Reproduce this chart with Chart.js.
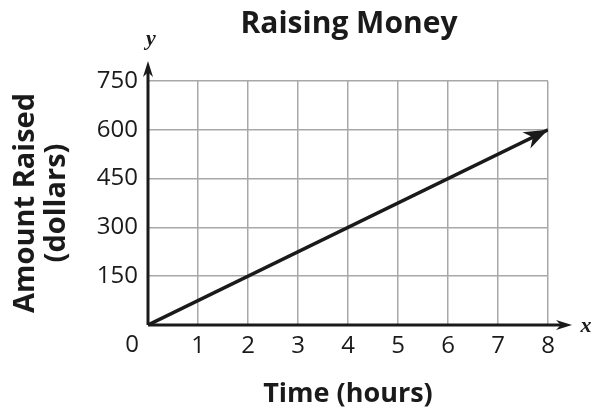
<!DOCTYPE html>
<html>
  <head>
   <meta charset='utf-8'>
   <title>Raising Money</title>
   <script src="https://cdn.jsdelivr.net/npm/chart.js@4.4.1/dist/chart.umd.min.js"></script>
   <style>
     body { margin: 0; background: #fff; }
     #wrap { width: 592px; height: 413px; }
   </style>
  </head>
  <body>
    <div id="wrap">
      <canvas id="chart_money"></canvas>
    </div>
    <script>
      var hours = [0, 8];
      var dollars = [0, 600];
      var x_ticks = [0, 1, 2, 3, 4, 5, 6, 7, 8];
      var y_ticks = [0, 150, 300, 450, 600, 750];

      var pts = hours.map(function(h, i) { return {x: h, y: dollars[i]}; });
      var fontName = "'Open Sans', 'Noto Sans', sans-serif";

      function arrowHead(ctx, x, y, ang, len, half) {
        ctx.save();
        ctx.translate(x, y);
        ctx.rotate(ang);
        ctx.beginPath();
        ctx.moveTo(0, 0);
        ctx.lineTo(-len, -half);
        ctx.lineTo(-len * 0.7, 0);
        ctx.lineTo(-len, half);
        ctx.closePath();
        ctx.fillStyle = '#1a1a1a';
        ctx.fill();
        ctx.restore();
      }

      // axes with arrows, arrow on the line, origin and axis letters
      var extras = {
        id: 'extras',
        afterDatasetsDraw: function(chart) {
          var ctx = chart.ctx;
          var xs = chart.scales.x, ys = chart.scales.y;
          var x0 = xs.getPixelForValue(0), y0 = ys.getPixelForValue(0);
          ctx.save();
          ctx.strokeStyle = '#1a1a1a';
          ctx.lineWidth = 3;
          ctx.beginPath();
          ctx.moveTo(x0, y0);
          ctx.lineTo(chart.chartArea.right + 14, y0);
          ctx.moveTo(x0, y0);
          ctx.lineTo(x0, chart.chartArea.top - 12);
          ctx.stroke();
          arrowHead(ctx, chart.chartArea.right + 24, y0, 0, 16, 5);
          arrowHead(ctx, x0, chart.chartArea.top - 20, -Math.PI / 2, 16, 5);

          var last = pts.length - 1;
          var ex = xs.getPixelForValue(pts[last].x), ey = ys.getPixelForValue(pts[last].y);
          var px = xs.getPixelForValue(pts[last - 1].x), py = ys.getPixelForValue(pts[last - 1].y);
          arrowHead(ctx, ex, ey, Math.atan2(ey - py, ex - px), 24, 9);

          ctx.fillStyle = '#1a1a1a';
          ctx.font = "24px " + fontName;
          ctx.textAlign = 'center';
          ctx.textBaseline = 'middle';
          ctx.fillText('0', x0 - 16, y0 + 20);
          ctx.font = "italic bold 22px 'Liberation Serif', serif";
          ctx.fillText('x', chart.chartArea.right + 38, y0 + 1);
          ctx.fillText('y', x0 + 3, chart.chartArea.top - 42);
          ctx.restore();
        }
      };

      var ctx_money = document.getElementById("chart_money").getContext("2d");
      var chart_money = new Chart(ctx_money, {
              type: "line",
              data: {'datasets': [
                  {'data': pts, 'borderColor': '#1a1a1a', 'borderWidth': 3.5,
                   'pointRadius': 0, 'borderCapStyle': 'butt', 'tension': 0}
                ]},
              options: {
                responsive: true,
                maintainAspectRatio: false,
                animation: false,
                layout: {padding: {top: 81, right: 44, left: 0, bottom: 0}},
                scales: {
                  x: {type: 'linear', min: 0, max: 8,
                      afterBuildTicks: function(s) { s.ticks = x_ticks.map(function(v) { return {value: v}; }); },
                      afterFit: function(s) { s.height = 88; },
                      grid: {color: '#a8a8a8', lineWidth: 1.5, drawTicks: false},
                      border: {display: false},
                      ticks: {color: '#1a1a1a', padding: 7, font: {family: fontName, size: 24},
                              callback: function(v) { return v === 0 ? '' : v; }},
                      title: {display: true, text: 'Time (hours)', color: '#1a1a1a',
                              font: {family: fontName, size: 27, weight: 'bold'}, padding: {bottom: 2}}},
                  y: {min: 0, max: 750,
                      afterBuildTicks: function(s) { s.ticks = y_ticks.map(function(v) { return {value: v}; }); },
                      afterFit: function(s) { s.width = 148; },
                      grid: {color: '#a8a8a8', lineWidth: 1.5, drawTicks: false},
                      border: {display: false},
                      ticks: {color: '#1a1a1a', padding: 10, font: {family: fontName, size: 24},
                              callback: function(v) { return v === 0 ? '' : v; }},
                      title: {display: true, text: ['Amount Raised', '(dollars)'], color: '#1a1a1a',
                              font: {family: fontName, size: 29, weight: 'bold', lineHeight: 1.05},
                              padding: {top: 11}}}
                },
                plugins: {
                  legend: {display: false},
                  tooltip: {enabled: false},
                  title: {display: false}
                }
              },
              plugins: [extras, {
                id: 'heading',
                afterDraw: function(chart) {
                  var ctx = chart.ctx;
                  ctx.save();
                  ctx.fillStyle = '#1a1a1a';
                  ctx.font = "bold 30px " + fontName;
                  ctx.textAlign = 'center';
                  ctx.textBaseline = 'middle';
                  ctx.fillText('Raising Money', 349, 24);
                  ctx.restore();
                }
              }]
            });
    </script>
  </body>
</html>
